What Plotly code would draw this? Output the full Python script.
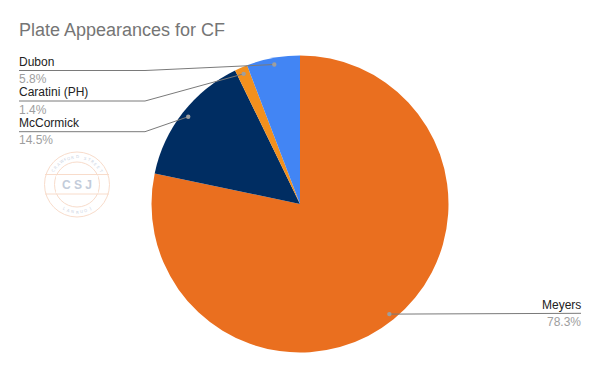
import math
import plotly.graph_objects as go

# ---- data ----
players = ["Meyers", "McCormick", "Caratini (PH)", "Dubon"]
shares = [78.3, 14.5, 1.4, 5.8]
pct_labels = ["78.3%", "14.5%", "1.4%", "5.8%"]
colors = ["#EA6F1F", "#002D62", "#F2901E", "#4285F4"]

W, H = 600, 371
CX, CY, R = 300.0, 204.0, 148.5
PAD = 2  # annotation inner padding in px

def px(x):
    return x / W

def py(y):
    return 1 - y / H

fig = go.Figure(go.Pie(
    labels=players, values=shares, sort=False, direction="clockwise", rotation=0,
    marker=dict(colors=colors, line=dict(width=0)),
    textinfo="none", hoverinfo="label+percent", showlegend=False,
    domain=dict(x=[px(CX - R), px(CX + R)], y=[py(CY + R), py(CY - R)]),
))

# ---- leader lines, dots, labels (layout) ----
label_side = ["right", "left", "left", "left"]
label_line_y = [313.3, 131.7, 101.0, 70.5]
LEFT_X, LEFT_BEND, RIGHT_X = 19, 145, 581

shapes, annotations = [], []
total = sum(shares)
cum = 0.0
for i, v in enumerate(shares):
    mid = (cum + v / 2) / total * 2 * math.pi
    cum += v
    dx = CX + 0.955 * R * math.sin(mid)
    dy = CY - 0.955 * R * math.cos(mid)
    ly = label_line_y[i]
    line_col = "#7a7a7a"
    if label_side[i] == "left":
        shapes.append(dict(type="path", xref="paper", yref="paper",
                           path=f"M {px(LEFT_X)} {py(ly)} L {px(LEFT_BEND)} {py(ly)} L {px(dx)} {py(dy)}",
                           line=dict(color=line_col, width=1), layer="above"))
        x_anchor, xa = px(LEFT_X - PAD), "left"
    else:
        shapes.append(dict(type="line", xref="paper", yref="paper",
                           x0=px(dx), y0=py(dy), x1=px(RIGHT_X), y1=py(ly),
                           line=dict(color=line_col, width=1), layer="above"))
        x_anchor, xa = px(RIGHT_X + PAD), "right"
    shapes.append(dict(type="circle", xref="paper", yref="paper",
                       x0=px(dx - 2.2), x1=px(dx + 2.2), y0=py(dy + 2.2), y1=py(dy - 2.2),
                       fillcolor="#9e9e9e", line=dict(width=0), layer="above"))
    annotations.append(dict(x=x_anchor, y=py(ly - 8.5), xref="paper", yref="paper",
                            text=players[i], showarrow=False, xanchor=xa, yanchor="middle",
                            font=dict(family="Liberation Sans, Arial", size=12, color="#222222")))
    annotations.append(dict(x=x_anchor, y=py(ly + 8.5), xref="paper", yref="paper",
                            text=pct_labels[i], showarrow=False, xanchor=xa, yanchor="middle",
                            font=dict(family="Liberation Sans, Arial", size=12, color="#9e9e9e")))

# ---- title ----
annotations.append(dict(x=px(19 - PAD), y=py(30), xref="paper", yref="paper",
                        text="Plate Appearances for CF", showarrow=False,
                        xanchor="left", yanchor="middle",
                        font=dict(family="Liberation Sans, Arial", size=18, color="#757575")))

# ---- watermark logo ----
WX, WY = 77.0, 184.5
wm_col = "#F8DCCB"
for rr in (32.5, 22.5):
    shapes.append(dict(type="circle", xref="paper", yref="paper",
                       x0=px(WX - rr), x1=px(WX + rr), y0=py(WY + rr), y1=py(WY - rr),
                       line=dict(color=wm_col, width=1), fillcolor="rgba(0,0,0,0)", layer="above"))
shapes.append(dict(type="rect", xref="paper", yref="paper",
                   x0=px(WX - 21), x1=px(WX + 21), y0=py(WY + 9), y1=py(WY - 9),
                   line=dict(width=0), fillcolor="white", layer="above"))
for yy in (WY - 10, WY + 9.5):
    shapes.append(dict(type="line", xref="paper", yref="paper",
                       x0=px(WX - 32), x1=px(WX + 32), y0=py(yy), y1=py(yy),
                       line=dict(color=wm_col, width=1), layer="above"))
annotations.append(dict(x=px(WX), y=py(WY), xref="paper", yref="paper",
                        xanchor="center", yanchor="middle", text="<b>C S J</b>",
                        showarrow=False, font=dict(family="Liberation Sans", size=12, color="#C3CCDA")))

def arc_text(txt, radius, a0, a1, top=True):
    n = len(txt)
    for k, ch in enumerate(txt):
        if ch == " ":
            continue
        a = a0 + (a1 - a0) * (k / (n - 1) if n > 1 else 0.5)
        ar = math.radians(a)
        x = WX + radius * math.sin(ar)
        y = WY - radius * math.cos(ar) if top else WY + radius * math.cos(ar)
        ang = a if top else -a
        annotations.append(dict(x=px(x), y=py(y), xref="paper", yref="paper", text=ch,
                                xanchor="center", yanchor="middle",
                                showarrow=False, textangle=ang,
                                font=dict(family="DejaVu Sans", size=4, color="#CBD3DF")))

arc_text("CRAWFORD STREET", 27.5, -60, 60, top=True)
arc_text("JOURNAL", 27.5, 28, -28, top=False)

fig.update_layout(width=W, height=H, margin=dict(l=0, r=0, t=0, b=0),
                  paper_bgcolor="white", plot_bgcolor="white",
                  shapes=shapes, annotations=annotations)

fig.write_html("out.html", config={"displayModeBar": False},
               post_script="document.body.style.margin='0';")
